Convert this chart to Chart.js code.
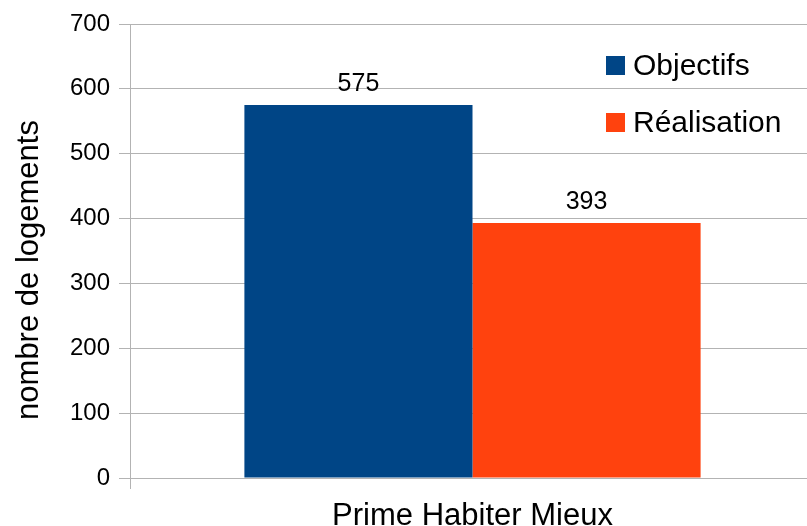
<!DOCTYPE html>
<html>
<head>
<meta charset="utf-8">
<script src="https://cdn.jsdelivr.net/npm/chart.js@4/dist/chart.umd.min.js"></script>
<style>
  html, body { margin: 0; padding: 0; background: #fff; overflow: hidden; }
  #wrap { width: 807px; height: 526px; overflow: hidden; }
  canvas { display: block; }
</style>
</head>
<body>
<!-- la zone de tracé dépasse un peu à droite, comme dans l'original -->
<div id="wrap"><canvas id="chart" width="815" height="526"></canvas></div>
<script>
// données du graphique
const categories = ['Prime Habiter Mieux'];
const seriesNames = ['Objectifs', 'Réalisation'];
const objectifs = [575];
const realisation = [393];
const seriesColors = ['#004586', '#ff420e'];
const yTitle = 'nombre de logements';

const FONT = "'Liberation Sans', Arial, sans-serif";
const GRID = '#b3b3b3';
const VIEW_W = 807;

// étiquettes de valeur au-dessus des barres
const valueLabels = {
    id: 'valueLabels',
    afterDatasetsDraw(chart) {
        const ctx = chart.ctx;
        ctx.save();
        ctx.font = '25px ' + FONT;
        ctx.fillStyle = '#000';
        ctx.textAlign = 'center';
        ctx.textBaseline = 'alphabetic';
        chart.data.datasets.forEach((ds, i) => {
            chart.getDatasetMeta(i).data.forEach((bar, j) => {
                ctx.fillText(String(ds.data[j]), bar.x, bar.y - 14);
            });
        });
        ctx.restore();
    }
};

// légende dans la zone du graphique, à droite
const insideLegend = {
    id: 'insideLegend',
    afterDraw(chart) {
        const ctx = chart.ctx;
        const area = chart.chartArea;
        const x0 = VIEW_W - 201;
        ctx.save();
        ctx.font = '30px ' + FONT;
        ctx.textBaseline = 'alphabetic';
        ctx.textAlign = 'left';
        chart.data.datasets.forEach((ds, i) => {
            const base = area.top + 51 + i * 57;
            ctx.fillStyle = ds.backgroundColor;
            ctx.fillRect(x0, base - 19, 19, 19);
            ctx.fillStyle = '#000';
            ctx.fillText(ds.label, x0 + 27, base);
        });
        ctx.restore();
    }
};

// titre de l'axe vertical
const axisTitle = {
    id: 'axisTitle',
    afterDraw(chart) {
        const ctx = chart.ctx;
        const area = chart.chartArea;
        ctx.save();
        ctx.translate(38, (area.top + area.bottom) / 2 + 19);
        ctx.rotate(-Math.PI / 2);
        ctx.font = '31px ' + FONT;
        ctx.fillStyle = '#000';
        ctx.textAlign = 'center';
        ctx.textBaseline = 'alphabetic';
        ctx.fillText(yTitle, 0, 0);
        ctx.restore();
    }
};

new Chart(document.getElementById('chart'), {
    type: 'bar',
    data: {
        labels: categories,
        datasets: [
            { label: seriesNames[0], data: objectifs, backgroundColor: seriesColors[0] },
            { label: seriesNames[1], data: realisation, backgroundColor: seriesColors[1] }
        ]
    },
    options: {
        responsive: false,
        animation: false,
        devicePixelRatio: 1,
        layout: { padding: { top: 24, right: 0, left: 0, bottom: 0 } },
        datasets: {
            bar: { barPercentage: 1, categoryPercentage: 0.666, borderWidth: 0 }
        },
        plugins: {
            legend: { display: false },
            tooltip: { enabled: false }
        },
        scales: {
            x: {
                grid: { display: true, drawOnChartArea: false, color: GRID, tickLength: 11, offset: true },
                border: { display: false },
                ticks: { color: '#000', font: { family: FONT, size: 31 }, padding: 9 },
                afterFit: (scale) => { scale.height = 48; }
            },
            y: {
                min: 0,
                max: 700,
                ticks: { stepSize: 100, color: '#000', font: { family: FONT, size: 24 }, padding: 9 },
                grid: { color: GRID, tickLength: 11 },
                border: { display: true, color: GRID },
                afterFit: (scale) => { scale.width = 130; }
            }
        }
    },
    plugins: [valueLabels, insideLegend, axisTitle]
});
</script>
</body>
</html>
